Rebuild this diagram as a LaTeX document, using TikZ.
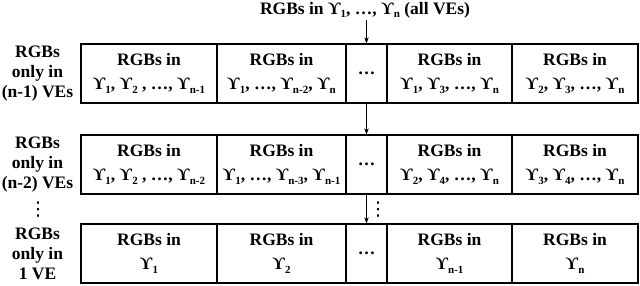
\documentclass[tikz,border=0pt]{standalone}
\usepackage{fontspec}
\setmainfont{Liberation Serif}
\newfontfamily\djv{DejaVu Sans}
\usetikzlibrary{arrows.meta}
\newcommand{\ys}[1]{ϒ\raisebox{-0.22em}{\fontsize{11}{11}\selectfont #1}}
\begin{document}
\begin{tikzpicture}[x=1pt,y=-1pt,
  txt/.style={font=\bfseries\fontsize{17.5}{24}\selectfont, align=center, inner sep=0pt},
  cell/.style={txt, draw, line width=1.3pt, minimum height=59pt, anchor=center},
  lab/.style={font=\bfseries\fontsize{17.5}{20}\selectfont, align=center, inner sep=0pt},
  arr/.style={line width=0.8pt, -{Stealth[length=6pt,width=4.5pt]}},
  vd/.style={font=\djv\fontsize{19}{19}\selectfont, inner sep=0pt}]
\useasboundingbox (0,0) rectangle (640,285);
% row 1
\node[cell, minimum width=136pt] (r1c1) at (149,73.5) {RGBs in\\\ys{1}, \ys{2} , \dots, \ys{n-1}};
\node[cell, minimum width=129pt] (r1c2) at (281.5,73.5) {RGBs in\\\ys{1}, \dots, \ys{n-2}, \ys{n}};
\node[cell, minimum width=41pt] (r1c3) at (366.5,73.5) {\dots};
\node[cell, minimum width=125pt] (r1c4) at (449.5,73.5) {RGBs in\\\ys{1}, \ys{3}, \dots, \ys{n}};
\node[cell, minimum width=126pt] (r1c5) at (575,73.5) {RGBs in\\\ys{2}, \ys{3}, \dots, \ys{n}};
% row 2
\node[cell, minimum width=136pt] (r2c1) at (149,164.5) {RGBs in\\\ys{1}, \ys{2} , \dots, \ys{n-2}};
\node[cell, minimum width=129pt] (r2c2) at (281.5,164.5) {RGBs in\\\ys{1}, \dots, \ys{n-3}, \ys{n-1}};
\node[cell, minimum width=41pt] (r2c3) at (366.5,164.5) {\dots};
\node[cell, minimum width=125pt] (r2c4) at (449.5,164.5) {RGBs in\\\ys{2}, \ys{4}, \dots, \ys{n}};
\node[cell, minimum width=126pt] (r2c5) at (575,164.5) {RGBs in\\\ys{3}, \ys{4}, \dots, \ys{n}};
% row 3
\node[cell, minimum width=136pt] (r3c1) at (149,253.5) {RGBs in\\\ys{1}};
\node[cell, minimum width=129pt] (r3c2) at (281.5,253.5) {RGBs in\\\ys{2}};
\node[cell, minimum width=41pt] (r3c3) at (366.5,253.5) {\dots};
\node[cell, minimum width=125pt] (r3c4) at (449.5,253.5) {RGBs in\\\ys{n-1}};
\node[cell, minimum width=126pt] (r3c5) at (575,253.5) {RGBs in\\\ys{n}};
% left labels
\node[lab] (l1) at (37.5,74) {RGBs\\only in\\(n-1) VEs};
\node[lab] (l2) at (37.5,165) {RGBs\\only in\\(n-2) VEs};
\node[lab] (l3) at (37.5,254) {RGBs\\only in\\1 VE};
\node[vd] (ld) at (38,210) {⋮};
% top
\node[txt, anchor=base] (top) at (365,14) {RGBs in \ys{1}, \dots, \ys{n} (all VEs)};
\draw[arr] (r1c3.north |- top.south) ++(0,2) -- (r1c3.north);
\draw[arr] (r1c3) -- (r2c3);
\draw[arr] (r2c3) -- (r3c3);
\node[vd] (md) at (378,210) {⋮};
\end{tikzpicture}
\end{document}
